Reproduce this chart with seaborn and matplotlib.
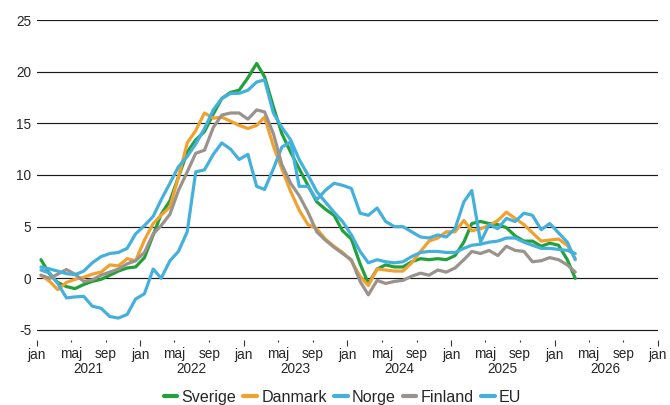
import numpy as np
import pandas as pd
import matplotlib
matplotlib.use("Agg")
import matplotlib.pyplot as plt
import matplotlib.dates as mdates
import matplotlib.transforms as mtransforms
from matplotlib.lines import Line2D
import seaborn as sns

# ---- data (monthly, Jan 2021 - Mar 2026) ----
start_month = "2021-01-01"
n_months = 63
series_names = ["Sverige", "Danmark", "Norge", "Finland", "EU"]

sverige = [1.8, 0.4, -0.4, -0.8, -1.0, -0.6, -0.3, -0.1, 0.3, 0.7, 1.0, 1.1,
           2.0, 4.2, 6.2, 7.5, 9.8, 12.2, 13.4, 14.2, 15.9, 17.4, 18.0, 18.2,
           19.4, 20.8, 19.5, 16.6, 14.0, 12.2, 10.6, 9.0, 7.4, 6.7, 6.1, 4.6,
           3.8, 1.4, -0.5, 0.9, 1.3, 1.1, 1.1, 1.6, 1.9, 1.8, 1.9, 1.8,
           2.2, 3.5, 5.3, 5.5, 5.3, 5.2, 4.9, 4.1, 3.6, 3.6, 3.1, 3.4,
           3.2, 1.8, 0.0]
danmark = [0.3, -0.3, -1.1, -0.4, -0.1, 0.1, 0.4, 0.6, 1.3, 1.2, 1.9, 1.7,
           3.7, 5.3, 6.1, 6.9, 9.8, 13.1, 14.3, 16.0, 15.5, 15.6, 15.2, 14.8,
           14.5, 14.8, 15.6, 12.8, 10.6, 8.4, 6.6, 5.2, 4.8, 3.8, 3.1, 2.5,
           1.7, 0.2, -0.7, 0.9, 0.8, 0.7, 0.7, 1.5, 2.6, 3.6, 3.9, 4.5,
           4.5, 5.6, 4.6, 4.8, 5.1, 5.6, 6.4, 5.8, 5.2, 4.4, 3.6, 3.7,
           3.8, 3.2, 1.9]
norge = [0.8, 0.5, -0.5, -1.9, -1.8, -1.75, -2.7, -2.9, -3.7, -3.85, -3.5, -2.0,
         -1.5, 0.9, 0.0, 1.7, 2.6, 4.5, 10.3, 10.5, 12.0, 13.1, 12.5, 11.5,
         12.0, 8.9, 8.6, 10.6, 12.7, 13.2, 8.9, 8.9, 7.6, 8.5, 9.2, 9.0,
         8.7, 6.3, 6.1, 6.8, 5.5, 5.0, 5.0, 4.5, 4.0, 3.9, 4.2, 4.0,
         4.8, 7.4, 8.5, 3.5, 5.2, 4.8, 5.8, 5.5, 6.3, 6.1, 4.7, 5.3,
         4.4, 3.5, 1.8]
finland = [0.3, 0.0, 0.4, 0.85, 0.4, -0.3, -0.15, 0.3, 0.6, 0.9, 1.4, 1.7,
           2.5, 4.3, 5.1, 6.2, 8.5, 10.3, 12.1, 12.4, 14.6, 15.8, 16.0, 16.0,
           15.4, 16.3, 16.1, 14.0, 11.0, 9.2, 8.0, 6.4, 4.5, 3.7, 3.0, 2.4,
           1.8, -0.3, -1.6, -0.2, -0.5, -0.3, -0.2, 0.2, 0.5, 0.3, 0.8, 0.6,
           1.0, 1.8, 2.6, 2.4, 2.7, 2.2, 3.1, 2.7, 2.6, 1.6, 1.7, 2.0,
           1.8, 1.3, 0.6]
eu = [1.1, 0.9, 0.7, 0.45, 0.35, 0.7, 1.5, 2.1, 2.4, 2.5, 2.9, 4.3,
      5.1, 6.0, 7.6, 9.2, 10.8, 11.8, 13.0, 14.5, 16.3, 17.4, 17.9, 17.9,
      18.2, 19.0, 19.2, 16.0, 14.6, 13.4, 11.5, 10.0, 8.4, 7.4, 6.4, 5.5,
      4.2, 2.6, 1.5, 1.8, 1.6, 1.5, 1.6, 2.1, 2.5, 2.6, 2.6, 2.5,
      2.5, 2.9, 3.2, 3.3, 3.5, 3.6, 3.9, 3.9, 3.5, 3.2, 2.9, 2.9,
      2.8, 2.7, 2.4]

month_labels = {1: "jan", 5: "maj", 9: "sep"}
years = [2021, 2022, 2023, 2024, 2025, 2026]
y_ticks = [-5, 0, 5, 10, 15, 20, 25]

colors = {"Sverige": "#22a03a", "Danmark": "#f0a130", "Norge": "#45b0dc",
          "Finland": "#9a938d", "EU": "#45b0dc"}

# ---- build table ----
dates = pd.date_range(start_month, periods=n_months, freq="MS") + pd.Timedelta(days=14)
values = {"Sverige": sverige, "Danmark": danmark, "Norge": norge,
          "Finland": finland, "EU": eu}
df = pd.concat([pd.DataFrame({"date": dates, "value": values[n], "series": n})
                for n in series_names], ignore_index=True)

sns.set_theme(style="white")
plt.rcParams["font.family"] = ["Liberation Sans", "DejaVu Sans"]
text_color = "#262626"

fig = plt.figure(figsize=(6.7, 4.05), dpi=100)
ax = fig.add_axes([37 / 670, 1 - 340.3 / 405, (658 - 37) / 670, (340.3 - 20) / 405])

sns.lineplot(data=df, x="date", y="value", hue="series", hue_order=series_names,
             palette=colors, linewidth=2.3, ax=ax, legend=False)

ax.set_ylim(-6, 25)
ax.set_xlim(pd.Timestamp("2021-01-01"), pd.Timestamp("2027-01-01"))
ax.set_yticks(y_ticks)
ax.set_yticklabels([str(v) for v in y_ticks])
ax.yaxis.grid(True, color="#1a1a1a", linewidth=0.85)
ax.xaxis.grid(False)
ax.set_axisbelow(True)
for s in ax.spines.values():
    s.set_visible(False)
ax.set_xlabel("")
ax.set_ylabel("")

def month_fmt(x, pos=None):
    m = mdates.num2date(x).month
    return month_labels.get(m, "")

ax.xaxis.set_major_locator(mdates.MonthLocator(bymonth=[1]))
ax.xaxis.set_minor_locator(mdates.MonthLocator(bymonth=[5, 9]))
ax.xaxis.set_major_formatter(plt.FuncFormatter(month_fmt))
ax.xaxis.set_minor_formatter(plt.FuncFormatter(month_fmt))
ax.tick_params(axis="x", which="major", bottom=True, length=4, width=0.8,
               color="#333333", pad=1.2, labelsize=9.8, labelcolor=text_color)
ax.tick_params(axis="x", which="minor", bottom=True, length=1.5, width=0.8,
               color="#333333", pad=3.6, labelsize=9.8, labelcolor=text_color)
ax.tick_params(axis="y", length=0, pad=4, labelsize=9.8, labelcolor=text_color)

trans = mtransforms.blended_transform_factory(ax.transData, ax.transAxes)
for yr in years:
    ax.text(mdates.date2num(pd.Timestamp(f"{yr}-07-01")), -0.0895, str(yr),
            transform=trans, ha="center", va="center", fontsize=9.8,
            color=text_color)

handles = [Line2D([], [], color=colors[n], linewidth=3.0) for n in series_names]
fig.legend(handles, series_names, loc="center", bbox_to_anchor=(0.511, 0.019),
           ncol=5, frameon=False, fontsize=11.6, handlelength=0.85,
           handletextpad=0.25, columnspacing=0.45, labelcolor=text_color)

fig.savefig("out.png", dpi=100)
